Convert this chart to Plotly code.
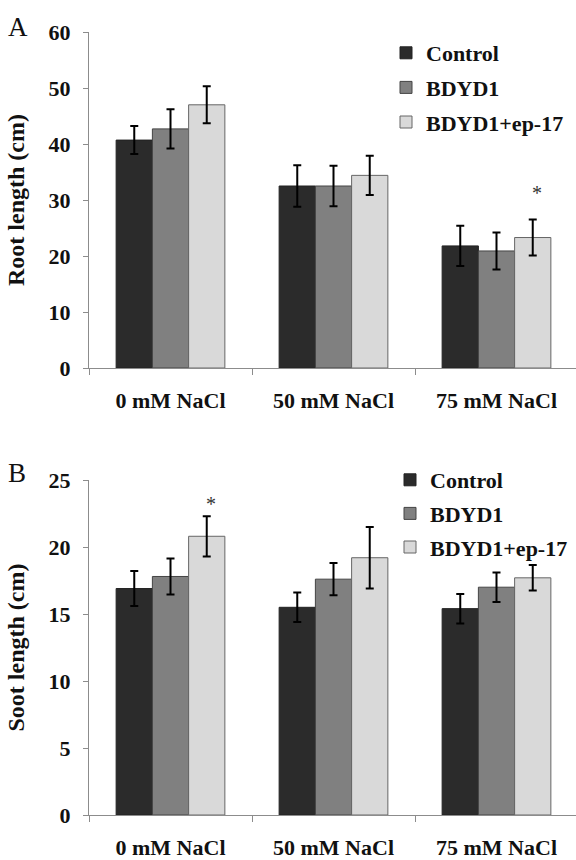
import plotly.graph_objects as go

categories = ["0 mM NaCl", "50 mM NaCl", "75 mM NaCl"]
series_names = ["Control", "BDYD1", "BDYD1+ep-17"]
series_colors = ["#2b2b2b", "#808080", "#d9d9d9"]
outline_colors = ["#222222", "#444444", "#666666"]

# Panel A: root length (cm)
root_control = [40.7, 32.5, 21.8]
root_control_err = [2.5, 3.7, 3.6]
root_bdyd1 = [42.7, 32.5, 20.9]
root_bdyd1_err = [3.5, 3.6, 3.3]
root_ep17 = [47.0, 34.4, 23.3]
root_ep17_err = [3.3, 3.5, 3.2]
root_sig_ep17 = ["", "", "*"]

# Panel B: shoot ("soot") length (cm)
shoot_control = [16.9, 15.5, 15.4]
shoot_control_err = [1.3, 1.1, 1.1]
shoot_bdyd1 = [17.8, 17.6, 17.0]
shoot_bdyd1_err = [1.35, 1.2, 1.1]
shoot_ep17 = [20.8, 19.2, 17.7]
shoot_ep17_err = [1.5, 2.3, 0.95]
shoot_sig_ep17 = ["*", "", ""]

FONT = "Liberation Serif"
W, H = 576, 860
BARGAP = 0.333
xpos = list(range(len(categories)))

fig = go.Figure()

panels = [
    ("x", "y", "legend", [root_control, root_bdyd1, root_ep17],
     [root_control_err, root_bdyd1_err, root_ep17_err]),
    ("x2", "y2", "legend2", [shoot_control, shoot_bdyd1, shoot_ep17],
     [shoot_control_err, shoot_bdyd1_err, shoot_ep17_err]),
]

for xa, ya, leg, means, errs in panels:
    for name, col, oc, m, e in zip(series_names, series_colors, outline_colors, means, errs):
        fig.add_trace(go.Bar(
            x=xpos, y=m, name=name, xaxis=xa, yaxis=ya, legend=leg,
            legendgroup=leg + name,
            marker=dict(color=col, line=dict(color=oc, width=1)),
            error_y=dict(type="data", array=e, visible=True, color="#000000",
                         thickness=2, width=4),
        ))

# significance asterisks above the BDYD1+ep-17 bars (third bar of each group)
bar_w = (1 - BARGAP) / 3
third_offset = bar_w
annots = []
for xa, ya, sig, m, e, shift in [("x", "y", root_sig_ep17, root_ep17, root_ep17_err, 27),
                                 ("x2", "y2", shoot_sig_ep17, shoot_ep17, shoot_ep17_err, 12)]:
    for i, s in enumerate(sig):
        if s:
            annots.append(dict(x=xpos[i] + third_offset, y=m[i] + e[i], xref=xa, yref=ya,
                               text=s, showarrow=False, yshift=shift, xshift=4,
                               font=dict(family=FONT, size=20, color="#333333")))

x_left = 89 / W
cat_px = 163.0
xr = [-0.5, -0.5 + (W - 89) / cat_px]


def xaxis_cfg(anchor):
    return dict(
        domain=[x_left, 1], anchor=anchor, automargin=False,
        type="linear", range=xr, tickmode="array", tickvals=xpos, ticktext=categories,
        showline=True, linecolor="#8c8c8c", linewidth=1,
        ticks="outside", ticklen=13, tickcolor="rgba(0,0,0,0)",
        minor=dict(tickmode="array", tickvals=[-0.5, 0.5, 1.5, 2.5], ticks="outside",
                   ticklen=6, tickcolor="#8c8c8c", tickwidth=1, showgrid=False),
        showgrid=False, zeroline=False,
        tickfont=dict(family=FONT, size=22, color="#111111", weight="bold"),
    )


def yaxis_cfg(anchor, dom, rng, dt, title):
    return dict(
        domain=dom, anchor=anchor, range=rng, dtick=dt, automargin=False,
        showline=True, linecolor="#8c8c8c", linewidth=1, ticks="outside",
        ticklen=5, tickcolor="#8c8c8c", showgrid=False, zeroline=False,
        tickfont=dict(family=FONT, size=22, color="#111111", weight="bold"),
        ticklabelstandoff=8,
        title=dict(text=title, standoff=17,
                   font=dict(family=FONT, size=24, color="#111111", weight="bold")),
    )


legend_font = dict(family=FONT, size=22, color="#111111", weight="bold")

fig.update_layout(
    width=W, height=H, margin=dict(l=0, r=0, t=0, b=0, pad=0),
    paper_bgcolor="white", plot_bgcolor="white",
    barmode="group", bargap=BARGAP, bargroupgap=0,
    xaxis=xaxis_cfg("y"),
    xaxis2=xaxis_cfg("y2"),
    yaxis=yaxis_cfg("x", [1 - 368 / H, 1 - 32 / H], [0, 60], 10, "Root length (cm)"),
    yaxis2=yaxis_cfg("x2", [1 - 815 / H, 1 - 480 / H], [0, 25], 5, "Soot length (cm)"),
    legend=dict(x=386 / W, y=1 - 32 / H, xanchor="left", yanchor="top",
                bgcolor="rgba(0,0,0,0)", tracegroupgap=3, font=legend_font),
    legend2=dict(x=390 / W, y=1 - 459 / H, xanchor="left", yanchor="top",
                 bgcolor="rgba(0,0,0,0)", tracegroupgap=2, font=legend_font),
    annotations=annots + [
        dict(text="A", x=6 / W, y=1 - 10 / H, xref="paper", yref="paper",
             xanchor="left", yanchor="top", showarrow=False,
             font=dict(family=FONT, size=27, color="#111111")),
        dict(text="B", x=6 / W, y=1 - 456 / H, xref="paper", yref="paper",
             xanchor="left", yanchor="top", showarrow=False,
             font=dict(family=FONT, size=27, color="#111111")),
    ],
)

fig.write_html("out.html")
